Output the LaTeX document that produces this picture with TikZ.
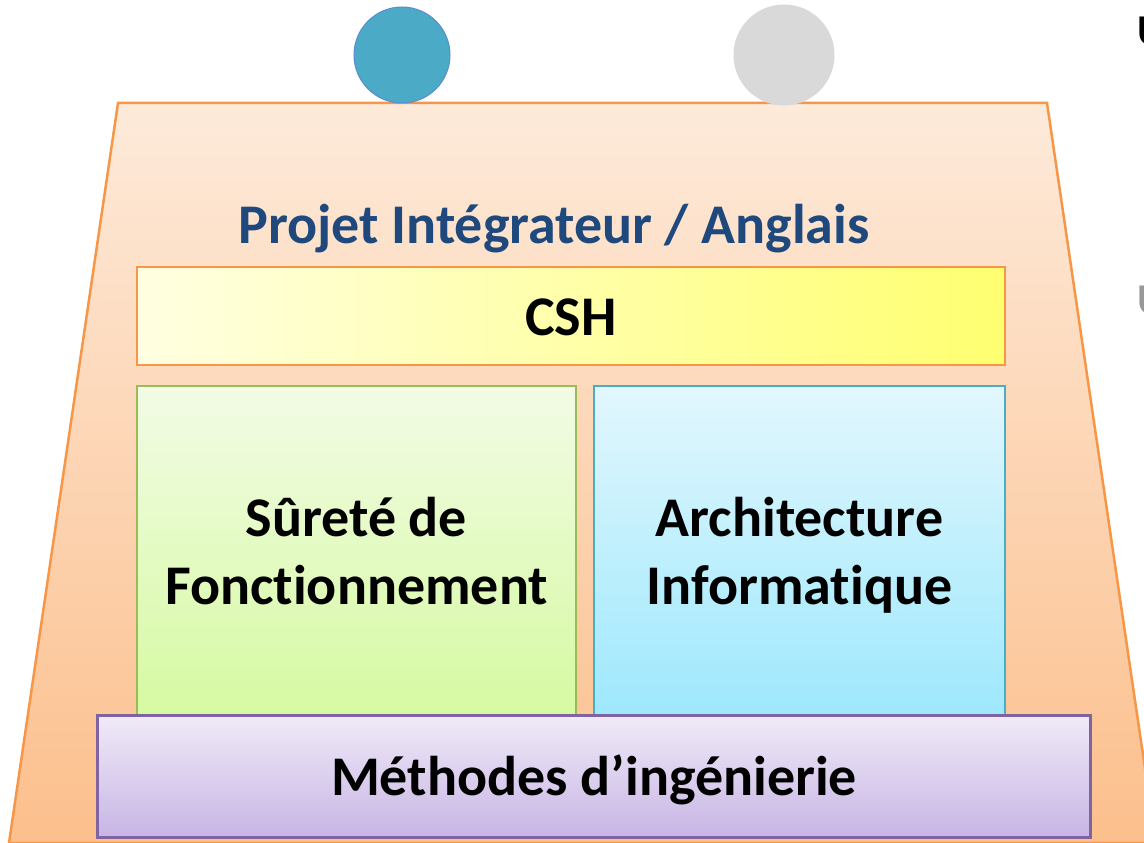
\documentclass[tikz,border=0pt]{standalone}
\usepackage{fontspec}
\setmainfont{Carlito}[Ligatures=NoCommon]
\begin{document}
\begin{tikzpicture}[x=1pt,y=-1pt,
  every node/.style={inner sep=0pt, outer sep=0pt},
  lbl/.style={font=\fontsize{56}{67}\selectfont\bfseries, anchor=base},
  layer/.style={draw, line width=2pt, rectangle}]
  \definecolor{frameorange}{RGB}{247,150,70}
  \definecolor{peachtop}{RGB}{253,234,218}
  \definecolor{peachbot}{RGB}{252,191,140}
  \definecolor{titleblue}{RGB}{31,73,125}
  \definecolor{cshleft}{RGB}{255,255,226}
  \definecolor{cshright}{RGB}{255,255,112}
  \definecolor{greenline}{RGB}{155,187,89}
  \definecolor{greentop}{RGB}{242,251,229}
  \definecolor{greenbot}{RGB}{214,250,162}
  \definecolor{blueline}{RGB}{75,172,198}
  \definecolor{bluetop}{RGB}{226,247,253}
  \definecolor{bluebot}{RGB}{158,232,253}
  \definecolor{purpleline}{RGB}{128,100,162}
  \definecolor{purpletop}{RGB}{240,234,248}
  \definecolor{purplebot}{RGB}{199,181,228}
  \definecolor{ballblue}{RGB}{75,170,198}
  \definecolor{ballrim}{RGB}{91,140,210}
  \definecolor{ballgrey}{RGB}{217,217,217}

  \useasboundingbox (0,0) rectangle (1144,843);
  \clip (0,0) rectangle (1144,843);

  % trapezoid frame
  \shade[top color=peachtop, bottom color=peachbot, draw=frameorange, line width=2.5pt]
    (118,103) -- (1047,103) -- (1156,843) -- (9,843) -- cycle;

  % balls resting on the frame
  \node[circle, fill=ballblue, draw=ballrim, line width=1pt, minimum size=96pt] (ball1) at (402,55) {};
  \node[circle, fill=ballgrey, minimum size=101pt] (ball2) at (784,55) {};

  % letters running off the right edge
  \node[anchor=base west, font=\fontsize{44}{50}\selectfont\bfseries] (edge1) at (1137,46) {U};
  \node[anchor=base west, font=\fontsize{44}{50}\selectfont\bfseries, text=ballgrey!70!black] (edge2) at (1137,314) {U};

  % title
  \node[lbl, text=titleblue] (title) at (554,243) {Projet Intégrateur / Anglais};

  % CSH band
  \node[layer, draw=frameorange, left color=cshleft, right color=cshright,
        minimum width=868pt, minimum height=98pt] (csh) at (571,316) {};
  \node[lbl] (cshtxt) at (571,335) {CSH};

  % two pillars
  \node[layer, draw=greenline, top color=greentop, bottom color=greenbot,
        minimum width=439pt, minimum height=329pt] (sdf) at (356.5,550.5) {};
  \node[lbl] (sdf1) at (356.5,536) {Sûreté de};
  \node[lbl] (sdf2) at (356.5,604) {Fonctionnement};

  \node[layer, draw=blueline, top color=bluetop, bottom color=bluebot,
        minimum width=411pt, minimum height=329pt] (arch) at (799.5,550.5) {};
  \node[lbl] (arch1) at (799.5,536) {Architecture};
  \node[lbl] (arch2) at (799.5,604) {Informatique};

  % base layer
  \node[layer, draw=purpleline, line width=3pt, top color=purpletop, bottom color=purplebot,
        minimum width=993pt, minimum height=122pt] (meth) at (594,776.5) {};
  \node[lbl] (methtxt) at (594,795) {Méthodes d’ingénierie};
\end{tikzpicture}
\end{document}
